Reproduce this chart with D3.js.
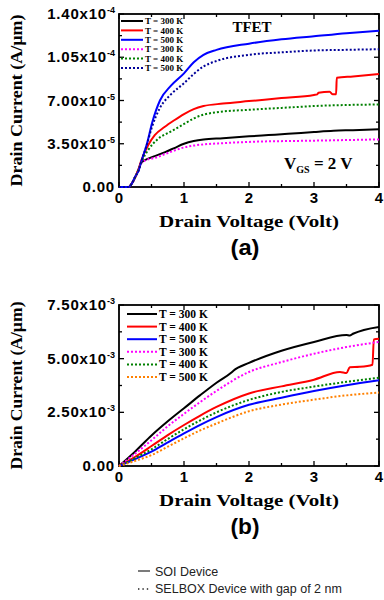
<!DOCTYPE html>
<html>
<head>
<meta charset="utf-8">
<script src="https://cdn.jsdelivr.net/npm/d3@7"></script>
<style>
  body { margin: 0; background: #fff; }
  svg { display: block; }
</style>
</head>
<body>
<div class="wrapper"></div>
<script>
// chart (a): TFET, current in units of 1e-5 A/um
var aSoi300 = [[0,0],[0.15,0],[0.2,0.3],[0.25,0.8],[0.3,1.4],[0.34,1.95],[0.45,2.3],[0.55,2.5],[0.7,2.8],[0.85,3.15],[1.0,3.5],[1.15,3.72],[1.3,3.85],[1.6,3.95],[2.0,4.1],[2.3,4.2],[2.6,4.3],[3.0,4.45],[3.3,4.55],[3.6,4.6],[4.0,4.68]];
var aSoi400 = [[0,0],[0.15,0],[0.2,0.3],[0.25,0.8],[0.3,1.45],[0.34,2.1],[0.45,3.4],[0.55,4.2],[0.7,4.85],[0.85,5.4],[1.0,5.9],[1.15,6.3],[1.3,6.55],[1.6,6.75],[2.0,6.95],[2.5,7.2],[3.0,7.45],[3.05,7.5],[3.07,7.62],[3.24,7.7],[3.29,7.5],[3.34,7.5],[3.35,8.84],[3.6,8.95],[4.0,9.14]];
var aSoi500 = [[0,0],[0.15,0],[0.2,0.3],[0.25,0.85],[0.3,1.3],[0.34,2.0],[0.43,3.5],[0.51,5.2],[0.63,7.0],[0.8,8.2],[1.0,9.2],[1.15,10.1],[1.3,10.7],[1.5,11.1],[2.0,11.6],[2.5,11.95],[3.0,12.2],[3.5,12.45],[4.0,12.65]];
var aSel300 = [[0,0],[0.15,0],[0.2,0.3],[0.25,0.8],[0.3,1.4],[0.34,1.9],[0.43,2.2],[0.55,2.35],[0.7,2.65],[0.85,2.95],[1.0,3.2],[1.15,3.35],[1.3,3.45],[1.6,3.55],[2.0,3.65],[3.0,3.75],[4.0,3.85]];
var aSel400 = [[0,0],[0.15,0],[0.2,0.3],[0.25,0.8],[0.3,1.4],[0.34,1.95],[0.45,3.0],[0.59,3.85],[0.8,4.5],[1.0,5.1],[1.15,5.55],[1.3,5.85],[1.5,6.05],[2.0,6.25],[2.5,6.4],[3.0,6.55],[4.0,6.68]];
var aSel500 = [[0,0],[0.15,0],[0.2,0.3],[0.25,0.85],[0.3,1.3],[0.34,2.0],[0.43,3.45],[0.51,4.9],[0.63,6.4],[0.8,7.5],[1.0,8.4],[1.15,9.15],[1.3,9.75],[1.5,10.2],[2.0,10.7],[2.5,10.9],[3.0,11.05],[3.5,11.1],[4.0,11.15]];

// chart (b): current in units of 1e-3 A/um
var bSoi300 = [[0,0],[0.25,0.68],[0.5,1.42],[0.75,2.08],[1.0,2.69],[1.25,3.3],[1.5,3.88],[1.73,4.36],[1.76,4.44],[2.0,4.8],[2.5,5.37],[3.0,5.78],[3.5,6.1],[3.55,6.08],[3.6,6.16],[4.0,6.48]];
var bSoi400 = [[0,0],[0.25,0.43],[0.5,0.93],[0.75,1.44],[1.0,1.91],[1.25,2.35],[1.5,2.75],[2.0,3.38],[2.5,3.71],[3.0,4.02],[3.4,4.38],[3.5,4.33],[3.55,4.6],[3.7,4.62],[3.9,4.72],[3.92,5.9],[4.0,5.93]];
var bSoi500 = [[0,0],[0.25,0.32],[0.5,0.67],[0.75,1.1],[1.0,1.52],[1.25,1.92],[1.5,2.28],[2.0,2.85],[2.5,3.18],[3.0,3.49],[3.5,3.76],[4.0,3.99]];
var bSel300 = [[0,0],[0.25,0.58],[0.5,1.2],[0.75,1.85],[1.0,2.43],[1.25,2.98],[1.5,3.5],[2.0,4.38],[2.5,4.84],[3.0,5.23],[3.5,5.54],[4.0,5.78]];
var bSel400 = [[0,0],[0.25,0.37],[0.5,0.78],[0.75,1.26],[1.0,1.71],[1.25,2.13],[1.5,2.5],[2.0,3.08],[2.5,3.45],[3.0,3.7],[3.5,3.92],[4.0,4.11]];
var bSel500 = [[0,0],[0.25,0.24],[0.5,0.51],[0.75,0.9],[1.0,1.29],[1.25,1.66],[1.5,1.98],[2.0,2.55],[2.5,2.86],[3.0,3.09],[3.5,3.29],[4.0,3.42]];

var legendNames = ["T = 300 K", "T = 400 K", "T = 500 K", "T = 300 K", "T = 400 K", "T = 500 K"];
var xTicks = [0, 1, 2, 3, 4];
var aYTicks = [0, 3.5, 7, 10.5, 14];
var aYLabels = [["0.00", ""], ["3.50x10", "-5"], ["7.00x10", "-5"], ["1.05x10", "-4"], ["1.40x10", "-4"]];
var bYTicks = [0, 2.5, 5, 7.5];
var bYLabels = [["0.00", ""], ["2.50x10", "-3"], ["5.00x10", "-3"], ["7.50x10", "-3"]];

var w = 384, h = 600;
var svg = d3.select(".wrapper").append("svg")
    .attr("width", w)
    .attr("height", h);

var sansB = "'Liberation Sans', Arial, sans-serif";
var serif = "'Liberation Serif', 'Times New Roman', serif";

function drawPanel(opt) {
  var x = d3.scaleLinear().domain([0, 4]).range([opt.left, opt.right]);
  var y = d3.scaleLinear().domain([0, opt.ymax]).range([opt.bottom, opt.top]);
  var g = svg.append("g");

  // inward ticks on four sides, majors + minors
  var minorX = d3.range(0, 4.01, 0.5), minorY = d3.range(0, opt.ymax + 0.001, opt.ymax / (opt.yTicks.length - 1) / 2);
  minorX.forEach(function(v) {
    var len = (v % 1 === 0) ? 5 : 3;
    g.append("line").attr("x1", x(v)).attr("x2", x(v)).attr("y1", opt.bottom).attr("y2", opt.bottom - len).attr("stroke", "#000").attr("stroke-width", 1.3);
    g.append("line").attr("x1", x(v)).attr("x2", x(v)).attr("y1", opt.top).attr("y2", opt.top + len).attr("stroke", "#000").attr("stroke-width", 1.3);
  });
  minorY.forEach(function(v, i) {
    var len = (i % 2 === 0) ? 5 : 3;
    g.append("line").attr("x1", opt.left).attr("x2", opt.left + len).attr("y1", y(v)).attr("y2", y(v)).attr("stroke", "#000").attr("stroke-width", 1.3);
    g.append("line").attr("x1", opt.right).attr("x2", opt.right - len).attr("y1", y(v)).attr("y2", y(v)).attr("stroke", "#000").attr("stroke-width", 1.3);
  });

  g.append("rect")
      .attr("x", opt.left).attr("y", opt.top)
      .attr("width", opt.right - opt.left).attr("height", opt.bottom - opt.top)
      .attr("fill", "none").attr("stroke", "#000").attr("stroke-width", 1.8);

  // tick labels
  g.selectAll(".xl").data(xTicks).enter().append("text")
      .attr("x", function(d) { return x(d); })
      .attr("y", opt.bottom + 16)
      .attr("text-anchor", "middle")
      .attr("font-family", sansB).attr("font-weight", "bold").attr("font-size", 15)
      .text(function(d) { return d; });

  var yl = g.selectAll(".yl").data(opt.yTicks).enter().append("text")
      .attr("x", opt.left - 4)
      .attr("y", function(d) { return y(d) + 5; })
      .attr("text-anchor", "end")
      .attr("font-family", sansB).attr("font-weight", "bold").attr("font-size", 15)
      .attr("letter-spacing", 0.8);
  yl.append("tspan").text(function(d, i) { return opt.yLabels[i][0]; });
  yl.append("tspan").attr("dy", -6).attr("font-size", 9).attr("letter-spacing", 0)
      .text(function(d, i) { return opt.yLabels[i][1]; });

  // axis titles
  g.append("text")
      .attr("transform", "translate(" + 22 + "," + ((opt.top + opt.bottom) / 2) + ") rotate(-90)")
      .attr("text-anchor", "middle")
      .attr("font-family", serif).attr("font-weight", "bold").attr("font-size", 17)
      .attr("textLength", opt.yTitleLen).attr("lengthAdjust", "spacingAndGlyphs")
      .text("Drain Current (A/µm)");
  g.append("text")
      .attr("x", (opt.left + opt.right) / 2).attr("y", opt.bottom + 40)
      .attr("text-anchor", "middle")
      .attr("font-family", serif).attr("font-weight", "bold").attr("font-size", 17)
      .attr("textLength", 180).attr("lengthAdjust", "spacingAndGlyphs")
      .text("Drain Voltage (Volt)");
  g.append("text")
      .attr("x", (opt.left + opt.right) / 2 - 4).attr("y", opt.bottom + 68)
      .attr("text-anchor", "middle")
      .attr("font-family", sansB).attr("font-weight", "bold").attr("font-size", 22)
      .attr("textLength", 29).attr("lengthAdjust", "spacingAndGlyphs")
      .text(opt.tag);

  // curves
  var line = d3.line()
      .x(function(d) { return x(d[0]); })
      .y(function(d) { return y(d[1]); })
      .curve(d3.curveMonotoneX);
  var plot = g.append("g");
  opt.series.forEach(function(s) {
    plot.append("path")
        .attr("d", line(s.data))
        .attr("fill", "none")
        .attr("stroke", s.color)
        .attr("stroke-width", 2)
        .attr("stroke-dasharray", s.dash ? "2,2" : null);
  });

  // legend
  var lg = g.append("g");
  opt.series.forEach(function(s, i) {
    var ly = opt.legY + i * opt.legStep;
    lg.append("line")
        .attr("x1", opt.legX).attr("x2", opt.legX + opt.legLen)
        .attr("y1", ly).attr("y2", ly)
        .attr("stroke", s.color).attr("stroke-width", 2)
        .attr("stroke-dasharray", s.dash ? "2,2" : null);
    lg.append("text")
        .attr("x", opt.legX + opt.legLen + 2).attr("y", ly + opt.legFont * 0.35)
        .attr("font-family", serif).attr("font-weight", "bold").attr("font-size", opt.legFont)
        .text(legendNames[i]);
  });
  return { x: x, y: y, g: g };
}

var pa = drawPanel({
  left: 119, right: 379, top: 14, bottom: 187, ymax: 14,
  yTicks: aYTicks, yLabels: aYLabels, tag: "(a)", yTitleLen: 172,
  legX: 121, legY: 21, legStep: 9.4, legLen: 22, legFont: 9,
  series: [
    { data: aSoi300, color: "#000000", dash: false },
    { data: aSoi400, color: "#ff0000", dash: false },
    { data: aSoi500, color: "#0000ff", dash: false },
    { data: aSel300, color: "#ff00ff", dash: true },
    { data: aSel400, color: "#008000", dash: true },
    { data: aSel500, color: "#000099", dash: true }
  ]
});

pa.g.append("text")
    .attr("x", 252).attr("y", 32)
    .attr("text-anchor", "middle")
    .attr("font-family", serif).attr("font-weight", "bold").attr("font-size", 15)
    .text("TFET");
var vgs = pa.g.append("text")
    .attr("x", 284).attr("y", 169)
    .attr("font-family", serif).attr("font-weight", "bold").attr("font-size", 17);
vgs.append("tspan").text("V");
vgs.append("tspan").attr("dy", 4).attr("font-size", 10).text("GS");
vgs.append("tspan").attr("dy", -4).text(" = 2 V");

drawPanel({
  left: 119, right: 379, top: 305, bottom: 466, ymax: 7.5,
  yTicks: bYTicks, yLabels: bYLabels, tag: "(b)", yTitleLen: 168,
  legX: 127, legY: 314, legStep: 12.6, legLen: 30, legFont: 11.5,
  series: [
    { data: bSoi300, color: "#000000", dash: false },
    { data: bSoi400, color: "#ff0000", dash: false },
    { data: bSoi500, color: "#0000ff", dash: false },
    { data: bSel300, color: "#ff00ff", dash: true },
    { data: bSel400, color: "#008000", dash: true },
    { data: bSel500, color: "#ff8000", dash: true }
  ]
});

// footer key
var foot = svg.append("g");
foot.append("line").attr("x1", 138).attr("x2", 150).attr("y1", 571).attr("y2", 571)
    .attr("stroke", "#222").attr("stroke-width", 1.2);
foot.append("line").attr("x1", 138).attr("x2", 151).attr("y1", 589).attr("y2", 589)
    .attr("stroke", "#222").attr("stroke-width", 1.4).attr("stroke-dasharray", "1.4,3");
foot.append("text").attr("x", 155).attr("y", 576)
    .attr("font-family", "'Liberation Sans', Arial, sans-serif").attr("font-size", 12.5).attr("fill", "#222")
    .text("SOI Device");
foot.append("text").attr("x", 155).attr("y", 593)
    .attr("font-family", "'Liberation Sans', Arial, sans-serif").attr("font-size", 12.5).attr("fill", "#222")
    .text("SELBOX Device with gap of 2 nm");
</script>
</body>
</html>
